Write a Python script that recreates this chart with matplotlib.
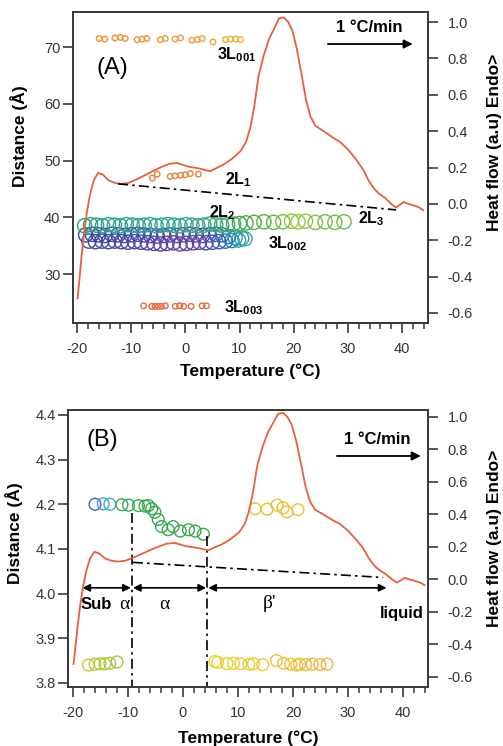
import numpy as np
import matplotlib
matplotlib.use("Agg")
import matplotlib.pyplot as plt
from matplotlib.colors import LinearSegmentedColormap
from matplotlib.ticker import MultipleLocator

plt.rcParams['font.family'] = ['Liberation Sans', 'DejaVu Sans']
plt.rcParams['mathtext.fontset'] = 'custom'
plt.rcParams['mathtext.rm'] = 'Liberation Sans'
plt.rcParams['mathtext.bf'] = 'Liberation Sans:bold'
plt.rcParams['axes.unicode_minus'] = False

# ---------------- DSC heating curve (1 °C/min) ----------------
dsc_temp = [-19.9, -19.6, -19.2, -18.7, -18.2, -17.6, -16.9, -16.1, -15.2, -14.2,
            -13.0, -11.8, -10.5, -9.0, -7.0, -5.0, -3.0, -1.5, 0.5, 2.5,
            3.8, 4.6, 5.6, 7.0, 8.5, 10.2, 11.2, 12.0, 12.7, 13.5,
            14.5, 15.5, 16.5, 17.3, 18.2, 19.0, 19.8, 20.6, 21.4, 22.3,
            23.1, 24.0, 25.0, 26.0, 27.2, 28.6, 30.0, 31.5, 32.8, 33.8,
            34.8, 35.8, 37.0, 38.0, 38.9, 39.6, 40.3, 41.2, 42.3, 43.2, 43.9]
dsc_heat = [-0.52, -0.43, -0.30, -0.16, -0.05, 0.05, 0.13, 0.17, 0.16, 0.13,
            0.115, 0.11, 0.115, 0.135, 0.165, 0.195, 0.22, 0.225, 0.205, 0.195,
            0.185, 0.18, 0.195, 0.215, 0.245, 0.29, 0.34, 0.42, 0.53, 0.70,
            0.82, 0.91, 0.97, 1.02, 1.025, 1.0, 0.95, 0.85, 0.72, 0.57,
            0.48, 0.43, 0.41, 0.39, 0.365, 0.34, 0.30, 0.245, 0.19, 0.13,
            0.085, 0.055, 0.03, 0.0, -0.02, -0.005, 0.01, 0.0, -0.01, -0.02, -0.035]

# DSC baselines (temperature, heat flow)
base_a_temp = [-12.4, 38.9]
base_a_heat = [0.11, -0.033]
base_b_temp = [-9.1, 36.4]
base_b_heat = [0.105, 0.012]

# ---------------- (A) long spacings ----------------
l001_temp = [-15.9, -14.9, -13.0, -12.0, -11.1, -8.9, -8.0, -7.1, -4.6, -3.7,
             -1.9, -0.9, 1.2, 2.2, 3.1, 5.1, 7.4, 8.3, 9.3, 10.2]
l001_d = [71.5, 71.4, 71.6, 71.7, 71.5, 71.3, 71.4, 71.5, 71.3, 71.5,
          71.4, 71.6, 71.2, 71.3, 71.5, 70.9, 71.3, 71.4, 71.4, 71.3]

l1_temp = [-6.1, -5.2, -2.8, -1.9, -0.9, 0.0, 0.9, 2.4]
l1_d = [46.9, 47.6, 47.2, 47.3, 47.4, 47.5, 47.7, 47.6]

l003_temp = [-7.7, -6.2, -5.6, -5.0, -4.4, -3.7, -1.85, -1.06, -0.3, 1.05, 3.1, 3.9]
l003_d = [24.4, 24.3, 24.3, 24.3, 24.3, 24.4, 24.3, 24.4, 24.3, 24.3, 24.4, 24.4]

# 2L2 continuing into 2L3
l2_temp = [-18.6, -17.5, -16.4, -15.3, -14.2, -13.1, -12.0, -10.9, -9.8, -8.7,
           -7.6, -6.5, -5.4, -4.3, -3.2, -2.1, -1.0, 0.1, 1.2, 2.3,
           3.4, 4.5, 5.6, 6.7, 7.8, 8.9, 10.0, 11.2, 12.7, 14.5,
           16.3, 18.0, 19.6, 20.8, 22.2, 24.0, 25.8, 27.6, 29.3]
l2_d = [38.5, 38.7, 38.6, 38.5, 38.7, 38.6, 38.5, 38.7, 38.6, 38.5,
        38.6, 38.7, 38.5, 38.6, 38.7, 38.6, 38.5, 38.7, 38.6, 38.5,
        38.6, 38.8, 38.7, 38.6, 38.7, 38.8, 38.9, 39.0, 39.1, 39.2,
        39.1, 39.2, 39.3, 39.2, 39.3, 39.1, 39.2, 39.1, 39.2]

# 3L002 (two overlapping scans)
l002_temp = [-18.4, -17.2, -16.0, -14.8, -13.6, -12.4, -11.2, -10.0, -8.8, -7.6,
             -6.4, -5.2, -4.0, -2.8, -1.6, -0.4, 0.8, 2.0, 3.2, 4.4,
             5.6, 6.8, 8.0, 9.2, 10.4]
l002_d = [36.9, 37.0, 36.9, 36.8, 37.0, 36.9, 36.8, 36.9, 37.0, 36.9,
          36.8, 36.7, 36.8, 36.9, 36.8, 36.9, 37.0, 36.9, 36.8, 36.9,
          37.0, 36.9, 36.6, 36.4, 36.3]
l002b_temp = [-17.8, -16.6, -15.4, -14.2, -13.0, -11.8, -10.6, -9.4, -8.2, -7.0,
              -5.8, -4.6, -3.4, -2.2, -1.0, 0.2, 1.4, 2.6, 3.8, 5.0,
              6.2, 7.4, 8.6, 9.8, 11.0]
l002b_d = [35.8, 35.7, 35.8, 35.7, 35.8, 35.7, 35.6, 35.7, 35.6, 35.5,
           35.4, 35.3, 35.4, 35.5, 35.3, 35.4, 35.5, 35.6, 35.5, 35.6,
           35.7, 35.8, 35.9, 36.0, 36.2]

# ---------------- (B) short spacings ----------------
b_top_temp = [-16.0, -14.5, -13.3, -11.1, -9.9, -8.1, -6.9, -6.3, -5.7, -5.1,
              -4.5, -3.9, -2.7, -1.8, -0.5, 1.0, 2.2, 3.7]
b_top_d = [4.200, 4.201, 4.200, 4.199, 4.198, 4.197, 4.196, 4.197, 4.190, 4.182,
           4.166, 4.150, 4.143, 4.150, 4.140, 4.143, 4.140, 4.133]

b_beta_temp = [13.1, 15.3, 17.1, 18.2, 18.9, 20.9]
b_beta_d = [4.190, 4.189, 4.198, 4.192, 4.183, 4.188]

b_low_left_temp = [-17.2, -16.0, -15.1, -14.2, -13.3, -12.0]
b_low_left_d = [3.840, 3.842, 3.843, 3.843, 3.844, 3.847]

b_low_right_temp = [5.8, 6.3, 8.0, 9.2, 10.5, 12.0, 12.8, 14.5, 17.0, 18.3,
                    19.6, 20.7, 21.2, 22.3, 23.5, 24.9, 26.2]
b_low_right_d = [3.848, 3.846, 3.843, 3.844, 3.843, 3.842, 3.843, 3.841, 3.850, 3.844,
                 3.842, 3.840, 3.842, 3.841, 3.842, 3.841, 3.842]

# phase boundaries and domain labels
phase_bounds = [-9.3, 4.4]
phase_tops = [4.18, 4.128]
phase_arrows = [(-18.3, -9.5), (-9.1, 4.2), (4.6, 37.0)]


def ramp(stops, temps):
    """Colour each point from a temperature-indexed gradient."""
    t0, t1 = stops[0][0], stops[-1][0]
    cmap = LinearSegmentedColormap.from_list(
        'r', [((t - t0) / (t1 - t0), c) for t, c in stops])
    return cmap(np.clip((np.asarray(temps) - t0) / (t1 - t0), 0, 1))


RED = '#E8603A'
SPINE = '#3a3a3a'

fig = plt.figure(figsize=(5.03, 7.46), dpi=100)
ax_a = fig.add_axes([73 / 503, 423 / 746, 355 / 503, 311 / 746])
ax_b = fig.add_axes([68 / 503, 59 / 746, 360 / 503, 277 / 746])


def style_axes(ax, twin):
    for sp in ax.spines.values():
        sp.set_linewidth(1.3)
        sp.set_color(SPINE)
    for sp in twin.spines.values():
        sp.set_linewidth(1.3)
        sp.set_color(SPINE)
    ax.xaxis.set_major_locator(MultipleLocator(10))
    ax.xaxis.set_minor_locator(MultipleLocator(2))
    ax.tick_params(axis='x', which='major', direction='out', length=7, width=1.2,
                   color=SPINE, labelsize=10.5, labelcolor='#333333', pad=7)
    ax.tick_params(axis='x', which='minor', direction='out', length=4, width=1.1,
                   color=SPINE)
    ax.tick_params(axis='y', which='major', direction='out', length=7, width=1.2,
                   color=SPINE, labelsize=10.5, labelcolor='#333333', pad=2)
    twin.yaxis.set_major_locator(MultipleLocator(0.2))
    twin.tick_params(axis='y', which='major', direction='out', length=7, width=1.2,
                     color=SPINE, labelsize=10.5, labelcolor='#333333', pad=7)
    twin.yaxis.set_major_formatter(plt.FuncFormatter(lambda v, p: f'{v:.1f}'))


# ================= (A) =================
ax_a.set_xlim(-20.74, 44.8)
ax_a.set_ylim(21.37, 76.17)
ax_a.set_yticks([30, 40, 50, 60, 70])
tw_a = ax_a.twinx()
tw_a.set_ylim(-0.655, 1.055)
style_axes(ax_a, tw_a)

ax_a.scatter(l002b_temp, l002b_d, s=105, facecolors='none', linewidths=1.0,
             edgecolors=ramp([(-19, '#3C4C9E'), (-8, '#4A46A6'), (-1, '#6A40A2'),
                              (4, '#5548AA'), (7, '#3862B2'), (9.5, '#2A92B2'),
                              (11, '#30A8A0')], l002b_temp))
ax_a.scatter(l002_temp, l002_d, s=105, facecolors='none', linewidths=1.0,
             edgecolors=ramp([(-19, '#3A4AA0'), (-8, '#4648A8'), (-1, '#5E42A4'),
                              (4, '#4C4CAA'), (7, '#3466B4'), (9.5, '#2896B0'),
                              (11, '#30A8A0')], l002_temp))
ax_a.scatter(l2_temp, l2_d, s=105, facecolors='none', linewidths=1.0,
             edgecolors=ramp([(-19, '#2E9E80'), (-8, '#28A290'), (0, '#2EA690'),
                              (6, '#38A874'), (10, '#3CAA52'), (16, '#5AB446'),
                              (21, '#9CC83C'), (25, '#7ABE48'), (30, '#6CBB50')],
                             l2_temp))
ax_a.scatter(l001_temp, l001_d, s=16, facecolors='none', linewidths=1.0,
             edgecolors=ramp([(-16, '#EE8E34'), (0, '#F09A38'), (10, '#F0B232')],
                             l001_temp))
ax_a.scatter(l1_temp, l1_d, s=16, facecolors='none', linewidths=1.0,
             edgecolors='#E8823A')
ax_a.scatter(l003_temp, l003_d, s=16, facecolors='none', linewidths=1.0,
             edgecolors='#E86A3A')

tw_a.plot(dsc_temp, dsc_heat, color=RED, lw=1.3)
tw_a.plot(base_a_temp, base_a_heat, color='k', lw=1.2,
          dashes=(6, 2.5, 1.5, 2.5))

lab_kw = dict(fontsize=11.5, fontweight='bold', va='center', ha='left')
ax_a.text(5.9, 68.6, r'$\mathbf{3L_{001}}$', **lab_kw)
ax_a.text(7.4, 46.7, r'$\mathbf{2L_{1}}$', **lab_kw)
ax_a.text(4.3, 40.9, r'$\mathbf{2L_{2}}$', **lab_kw)
ax_a.text(31.9, 39.8, r'$\mathbf{2L_{3}}$', **lab_kw)
ax_a.text(15.2, 35.4, r'$\mathbf{3L_{002}}$', **lab_kw)
ax_a.text(7.2, 24.1, r'$\mathbf{3L_{003}}$', **lab_kw)

ax_a.text(0.11, 0.82, '(A)', transform=ax_a.transAxes, fontsize=17,
          ha='center', va='center')
ax_a.text(0.834, 0.949, '1 °C/min', transform=ax_a.transAxes, fontsize=12,
          fontweight='bold', ha='center', va='center')
ax_a.annotate('', xy=(0.957, 0.897), xytext=(0.718, 0.897),
              xycoords='axes fraction', textcoords='axes fraction',
              arrowprops=dict(arrowstyle='-|>', color='k', lw=1.3,
                              mutation_scale=13, shrinkA=0, shrinkB=0))

# ================= (B) =================
ax_b.set_xlim(-20.91, 44.55)
ax_b.set_ylim(3.791, 4.411)
ax_b.set_yticks([3.8, 3.9, 4.0, 4.1, 4.2, 4.3, 4.4])
ax_b.yaxis.set_major_formatter(plt.FuncFormatter(lambda v, p: f'{v:.1f}'))
tw_b = ax_b.twinx()
tw_b.set_ylim(-0.662, 1.043)
style_axes(ax_b, tw_b)

for xb, yt in zip(phase_bounds, phase_tops):
    ax_b.plot([xb, xb], [yt, 3.791], color='k', lw=1.2,
              dashes=(6, 2.5, 1.5, 2.5), clip_on=False)

ax_b.scatter(b_top_temp, b_top_d, s=72, facecolors='none', linewidths=1.0,
             edgecolors=ramp([(-16, '#4A5CC4'), (-14.5, '#38A6E0'),
                              (-13.3, '#3CB0D4'), (-11.1, '#38A858'),
                              (4, '#34A848')], b_top_temp))
ax_b.scatter(b_beta_temp, b_beta_d, s=72, facecolors='none', linewidths=1.0,
             edgecolors='#EAC22C')
ax_b.scatter(b_low_left_temp, b_low_left_d, s=72, facecolors='none',
             linewidths=1.0,
             edgecolors=ramp([(-17.5, '#C0CC3A'), (-12, '#A6C640')],
                             b_low_left_temp))
ax_b.scatter(b_low_right_temp, b_low_right_d, s=72, facecolors='none',
             linewidths=1.0,
             edgecolors=ramp([(5, '#E6D42A'), (15, '#EAC830'), (26, '#EDB43E')],
                             b_low_right_temp))

tw_b.plot(dsc_temp, dsc_heat, color=RED, lw=1.3)
tw_b.plot(base_b_temp, base_b_heat, color='k', lw=1.2,
          dashes=(6, 2.5, 1.5, 2.5))

for x0, x1 in phase_arrows:
    ax_b.annotate('', xy=(x1, 4.013), xytext=(x0, 4.013),
                  arrowprops=dict(arrowstyle='<|-|>', color='k', lw=1.2,
                                  mutation_scale=11, shrinkA=0, shrinkB=0))

ax_b.text(-18.6, 3.975, 'Sub', fontsize=12, fontweight='bold',
          ha='left', va='center')
ax_b.text(-11.6, 3.975, 'α', fontsize=14, family='Liberation Serif',
          ha='left', va='center')
ax_b.text(-3.3, 3.975, 'α', fontsize=14, family='Liberation Serif',
          ha='center', va='center')
ax_b.text(15.8, 3.977, "β'", fontsize=14, family='Liberation Serif',
          ha='center', va='center')
ax_b.text(43.8, 3.955, 'liquid', fontsize=12, fontweight='bold',
          ha='right', va='center')

ax_b.text(0.094, 0.892, '(B)', transform=ax_b.transAxes, fontsize=17,
          ha='center', va='center')
ax_b.text(0.858, 0.892, '1 °C/min', transform=ax_b.transAxes, fontsize=12,
          fontweight='bold', ha='center', va='center')
ax_b.annotate('', xy=(0.98, 0.834), xytext=(0.747, 0.834),
              xycoords='axes fraction', textcoords='axes fraction',
              arrowprops=dict(arrowstyle='-|>', color='k', lw=1.3,
                              mutation_scale=13, shrinkA=0, shrinkB=0))

# ---------------- axis titles ----------------
title_kw = dict(fontsize=12.5, fontweight='bold', ha='center', va='center')
fig.text(250 / 503, 1 - 371 / 746, 'Temperature (°C)', **title_kw)
fig.text(248 / 503, 1 - 738 / 746, 'Temperature (°C)', **title_kw)
fig.text(19 / 503, 1 - 136 / 746, 'Distance (Å)', rotation=90, **title_kw)
fig.text(14 / 503, 1 - 533 / 746, 'Distance (Å)', rotation=90, **title_kw)
fig.text(494 / 503, 1 - 142 / 746, 'Heat flow (a.u) Endo>', rotation=90, **title_kw)
fig.text(494 / 503, 1 - 538 / 746, 'Heat flow (a.u) Endo>', rotation=90, **title_kw)

fig.savefig('out.png', dpi=100)
